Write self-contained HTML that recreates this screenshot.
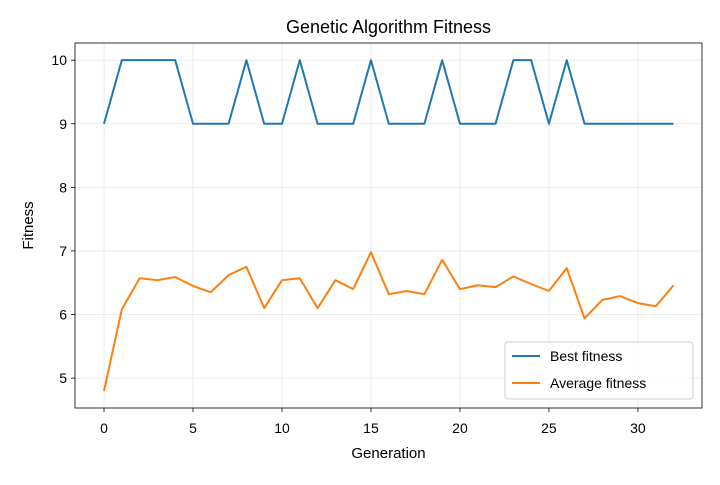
<!DOCTYPE html>
<html><head><meta charset="utf-8">
<style>
body{margin:0;background:#fff;}
svg text{font-family:"Liberation Sans","DejaVu Sans",sans-serif;fill:#000;}
</style></head>
<body>
<svg id="chart" width="720" height="480" xmlns="http://www.w3.org/2000/svg"></svg>
<script>
const generations = [0,1,2,3,4,5,6,7,8,9,10,11,12,13,14,15,16,17,18,19,20,21,22,23,24,25,26,27,28,29,30,31,32];
const bestFitness = [9,10,10,10,10,9,9,9,10,9,9,10,9,9,9,10,9,9,9,10,9,9,9,10,10,9,10,9,9,9,9,9,9];
const avgFitness = [4.80,6.08,6.57,6.54,6.59,6.45,6.35,6.62,6.75,6.10,6.54,6.57,6.10,6.54,6.40,6.98,6.32,6.37,6.32,6.86,6.40,6.46,6.43,6.60,6.48,6.37,6.73,5.94,6.23,6.29,6.18,6.13,6.46];
const xTicks = [0,5,10,15,20,25,30];
const yTicks = [5,6,7,8,9,10];

const L=75,R=702,T=43,B=408;
const xMin=-1.63,xMax=33.6,yMin=4.53,yMax=10.27;
const sx=v=>L+(v-xMin)/(xMax-xMin)*(R-L);
const sy=v=>B-(v-yMin)/(yMax-yMin)*(B-T);
const svg=document.getElementById('chart');
const NS='http://www.w3.org/2000/svg';
function mk(tag,attrs,parent){const e=document.createElementNS(NS,tag);for(const k in attrs)e.setAttribute(k,attrs[k]);(parent||svg).appendChild(e);return e;}

xTicks.forEach(v=>{
  const g=mk('line',{x1:sx(v),x2:sx(v),y1:T,y2:B,stroke:'#e6e6e6','stroke-width':0.8});
  
  
  mk('line',{x1:sx(v),x2:sx(v),y1:B,y2:B+4,stroke:'#000','stroke-width':0.8});
  const t=mk('text',{x:sx(v),y:B+25,'text-anchor':'middle','font-size':14});
  t.textContent=v;
  
  
});
yTicks.forEach(v=>{
  const g=mk('line',{x1:L,x2:R,y1:sy(v),y2:sy(v),stroke:'#e6e6e6','stroke-width':0.8});
  
  
  mk('line',{x1:L-4,x2:L,y1:sy(v),y2:sy(v),stroke:'#000','stroke-width':0.8});
  const t=mk('text',{x:L-8,y:sy(v)+5,'text-anchor':'end','font-size':14});
  t.textContent=v;
  
  
});

function line(vals,color,name){
  const p=mk('polyline',{points:vals.map((v,i)=>sx(generations[i])+','+sy(v)).join(' '),fill:'none',stroke:color,'stroke-width':2,'stroke-linejoin':'round'});
  
  
}
line(bestFitness,'#1f77b4','best-fitness-line');
line(avgFitness,'#ff7f0e','average-fitness-line');

const frame=mk('rect',{x:L,y:T,width:R-L,height:B-T,fill:'none',stroke:'#000','stroke-width':0.8});



const title=mk('text',{x:(L+R)/2,y:33,'text-anchor':'middle','font-size':18});
title.textContent='Genetic Algorithm Fitness';


const xl=mk('text',{x:(L+R)/2,y:458,'text-anchor':'middle','font-size':15});
xl.textContent='Generation';


const yl=mk('text',{x:0,y:0,'text-anchor':'middle','font-size':15,transform:'translate(33,'+((T+B)/2)+') rotate(-90)'});
yl.textContent='Fitness';



const lg=mk('g',{});


mk('rect',{x:505,y:342,width:188,height:57,rx:3,fill:'#fff','fill-opacity':0.8,stroke:'#ccc'},lg);
[['Best fitness','#1f77b4',356],['Average fitness','#ff7f0e',383]].forEach(([lab,c,y])=>{
  const e=mk('g',{},lg);
  
  
  mk('line',{x1:512,x2:540,y1:y,y2:y,stroke:c,'stroke-width':2},e);
  const t=mk('text',{x:550,y:y+5,'font-size':14},e);
  t.textContent=lab;
});
</script>
</body></html>
